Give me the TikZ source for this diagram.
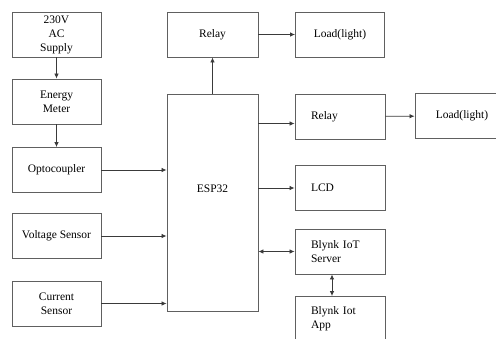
\documentclass[tikz,border=0pt]{standalone}
\usepackage{fontspec}
\setmainfont{Liberation Serif}
\usetikzlibrary{arrows.meta,positioning}
\definecolor{blkline}{HTML}{606060}
\definecolor{blkarrow}{HTML}{3A3A3A}
\tikzset{
  bx/.style={draw=blkline, line width=0.9pt, align=center, minimum width=89pt, minimum height=45pt, inner sep=2pt, font=\fontsize{11.5}{14}\selectfont},
  lbx/.style={bx, align=left, text width=58pt, inner xsep=16pt},
  arr/.style={-{Latex[length=5pt,width=4.5pt]}, line width=0.8pt, color=blkarrow},
  arr2/.style={{Latex[length=5pt,width=4.5pt]}-{Latex[length=5pt,width=4.5pt]}, line width=0.8pt, color=blkarrow},
}
\begin{document}
\begin{tikzpicture}[x=1pt, y=-1pt]
    \useasboundingbox (0,0) rectangle (496,338);
    \clip (0,0) rectangle (496,338);
    % inputs
    \node[bx] (sup) at (56.5,34.5) {230V\\AC\\Supply};
    \node[bx] (meter) at (56.5,101.5) {Energy\\Meter};
    \node[bx] (opto) at (56.5,170) {Optocoupler};
    \node[bx] (volt) at (56.5,236) {Voltage Sensor};
    \node[bx] (cur) at (56.5,303.5) {Current\\Sensor};
    % controller
    \node[bx, minimum width=91pt, minimum height=217pt, label={[font=\fontsize{11.5}{14}\selectfont, yshift=14pt]center:ESP32}] (esp) at (212.5,202.5) {};
    % outputs
    \node[bx, minimum width=91pt] (relayA) at (212.5,34.5) {Relay};
    \node[bx] (loadA) at (340,34.5) {Load(light)};
    \node[lbx] (relayB) at (340,116.5) {Relay};
    \node[bx, minimum width=94pt] (loadB) at (462,116) {Load(light)};
    \node[lbx] (lcd) at (340,188) {LCD};
    \node[lbx] (server) at (340,251.5) {Blynk IoT\\Server};
    \node[lbx] (app) at (340,319) {Blynk Iot\\App};
    \foreach \a/\b in {sup/meter,meter/opto,esp/relayA,relayA/loadA,relayB/loadB} \draw[arr] (\a) -- (\b);
    \foreach \a in {opto,volt,cur} \draw[arr] (\a.east) -- (\a.east -| esp.west);
    \draw[arr] ([yshift=-7pt]relayB.west -| esp.east) -- ([yshift=-7pt]relayB.west);
    \draw[arr] (lcd.west -| esp.east) -- (lcd.west);
    \draw[arr2] (server.west -| esp.east) -- (server.west);
    \draw[arr2] ([xshift=-8pt]server.south) -- ([xshift=-8pt]app.north);
\end{tikzpicture}
\end{document}
